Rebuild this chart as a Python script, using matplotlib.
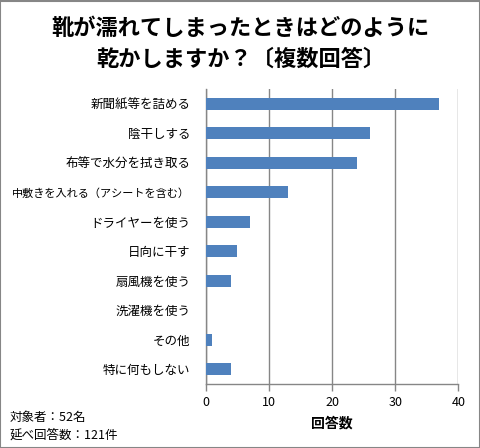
import matplotlib
matplotlib.use("Agg")
import matplotlib.pyplot as plt
from matplotlib.patches import Rectangle

plt.rcParams['font.family'] = ['Noto Sans CJK JP', 'DejaVu Sans']

categories = ["新聞紙等を詰める", "陰干しする", "布等で水分を拭き取る",
              "中敷きを入れる（アシートを含む）", "ドライヤーを使う", "日向に干す",
              "扇風機を使う", "洗濯機を使う", "その他", "特に何もしない"]
values = [37, 26, 24, 13, 7, 5, 4, 0, 1, 4]
xticks = [0, 10, 20, 30, 40]
title = "靴が濡れてしまったときはどのように\n乾かしますか？〔複数回答〕"
xlabel = "回答数"
note = "対象者：52名\n延べ回答数：121件"

fig = plt.figure(figsize=(4.81, 4.48), dpi=100)
ax = fig.add_axes([0.4277, 0.1435, 0.5251, 0.6572])

ypos = list(range(len(categories)))
ax.barh(ypos, values, height=0.41, color="#4F81BD", zorder=3)
ax.set_ylim(len(categories) - 0.5, -0.5)
ax.set_xlim(0, 40)
ax.set_yticks(ypos)
ax.set_yticklabels(categories, fontsize=9)
for lbl in ax.get_yticklabels():
    if len(lbl.get_text()) > 12:
        lbl.set_fontsize(8)
ax.set_xticks(xticks)
ax.set_xticklabels([str(t) for t in xticks], fontsize=9)
ax.tick_params(axis='y', length=0, pad=11)
ax.tick_params(axis='x', length=5, width=1, color="#868686", direction='out', pad=4)
ax.grid(axis='x', color="#868686", linewidth=1, zorder=0)
for s in ['top', 'right']:
    ax.spines[s].set_visible(False)
for s in ['left', 'bottom']:
    ax.spines[s].set_color("#868686")
    ax.spines[s].set_linewidth(1)
ax.set_xlabel(xlabel, fontsize=10, fontweight='bold', labelpad=5)

fig.text(0.5, 0.962, title, ha='center', va='top', fontsize=16,
         fontweight='bold', linespacing=1.45)
fig.text(0.02, 0.083, note, ha='left', va='top', fontsize=9, linespacing=1.45)

fig.patches.append(Rectangle((0.001, 0.001), 0.997, 0.997, transform=fig.transFigure,
                             fill=False, edgecolor="#868686", linewidth=1.5))

fig.savefig("out.png", dpi=100)
